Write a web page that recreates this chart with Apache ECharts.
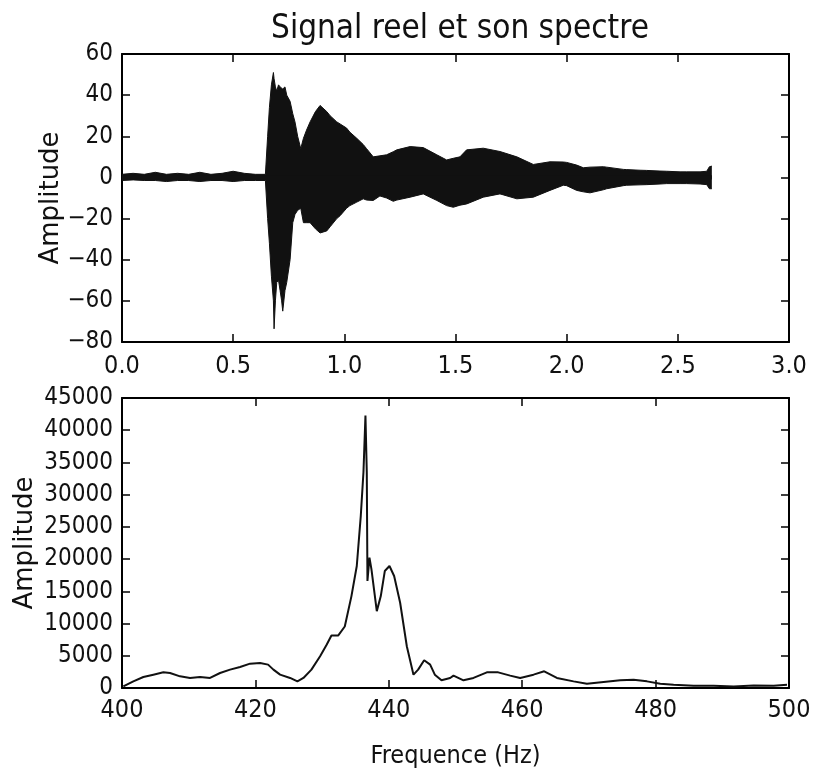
<!DOCTYPE html>
<html>
<head>
    <meta charset="utf-8">
    <title>Signal reel et son spectre</title>
    <script src="https://cdn.jsdelivr.net/npm/echarts@6/dist/echarts.min.js"></script>
    <style>
        html, body, #main {
            width: 100%;
            height: 100%;
            margin: 0;
            background: #fff;
        }
    </style>
</head>
<body>
    <div id="main"></div>
    <script type="text/javascript">
        // signal enveloppe : temps en s, bord haut, bord bas
        var sigTime = [0.00, 0.05, 0.10, 0.15, 0.20, 0.25, 0.30, 0.35, 0.40, 0.45, 0.50, 0.55, 0.60, 0.645,
            0.655, 0.663, 0.672, 0.681, 0.684, 0.690, 0.696, 0.704, 0.711, 0.718, 0.723, 0.733, 0.741,
            0.756, 0.768, 0.778, 0.790, 0.804, 0.816, 0.830, 0.846, 0.870, 0.891, 0.898, 0.921, 0.936,
            0.966, 0.981, 1.010, 1.025, 1.056, 1.085, 1.10, 1.13, 1.16, 1.19, 1.22, 1.236, 1.296, 1.355,
            1.416, 1.46, 1.49, 1.52, 1.55, 1.625, 1.70, 1.776, 1.85, 1.925, 1.985, 2.00, 2.045, 2.075,
            2.105, 2.165, 2.18, 2.255, 2.27, 2.33, 2.36, 2.42, 2.45, 2.51, 2.54, 2.60, 2.63, 2.642, 2.653];
        var sigUpper = [1.5, 2, 1.5, 2.5, 1.5, 2, 1.5, 2.5, 1.5, 2, 3, 2, 1.5, 1.5,
            20, 34, 45, 51, 48, 44, 42, 45, 44, 44.5, 43, 44, 40,
            37, 31, 27, 20, 14, 19, 23, 27, 32, 35, 35, 32, 30,
            27, 26, 24, 22, 19, 16, 14, 10, 10.5, 11, 12.5, 13.4, 15, 14.5,
            11, 8.5, 9.3, 10, 13.4, 14.2, 12.6, 10, 6.3, 7.6, 7.5, 7.3, 6, 4.7,
            5, 5.2, 5, 3.9, 3.8, 3.5, 3.4, 3.1, 3, 2.7, 2.7, 2.7, 3, 5.2, 5.5];
        var sigLower = [-1.5, -1.2, -1.5, -1.5, -2, -1.5, -1.5, -2, -1.5, -1.5, -2, -1.5, -1.5, -1.5,
            -20, -32, -48, -60, -73.6, -60, -51, -50, -55, -60, -65, -55, -51,
            -40, -22, -18, -16, -15, -22, -22, -22, -25, -27, -27.6, -26, -24,
            -20, -18.6, -15, -13.7, -12, -10.4, -11, -11.2, -9, -10, -11.6, -11, -9.6, -8,
            -11.2, -13.7, -14.5, -13.5, -12.9, -9.6, -8, -10.4, -9.6, -6.3, -3.8, -4, -6.3, -7,
            -7.5, -6, -5.5, -4, -3.8, -3.6, -3.5, -3.2, -3, -3, -3, -3.2, -3.5, -5.5, -5.5];

        // spectre : frequence (Hz) et amplitude
        var freq = [400.2, 401.7, 403.2, 404.7, 406.2, 407.2, 408.7, 410.2, 411.7, 413.2, 414.7, 416.2,
            417.7, 419.2, 420.7, 421.9, 422.7, 423.7, 425.2, 426.3, 427.2, 428.4, 429.7, 430.7, 431.4,
            432.4, 433.4, 434.4, 435.2, 435.8, 436.2, 436.5, 436.7, 436.8, 437.1, 437.4, 438.2, 438.8,
            439.4, 440.1, 440.8, 441.7, 442.7, 443.7, 444.4, 445.3, 446.2, 446.9, 447.9, 449.2, 449.7,
            451.2, 452.7, 454.7, 456.4, 458.2, 459.7, 461.7, 463.3, 465.2, 467.7, 469.7, 472.2, 474.7,
            476.7, 478.7, 480.7, 482.7, 485.7, 488.7, 491.7, 494.7, 497.7, 499.7];
        var ampl = [250, 1030, 1710, 2070, 2430, 2330, 1810, 1560, 1710, 1560, 2330, 2850,
            3270, 3780, 3890, 3630, 2850, 2070, 1560, 1030, 1560, 2850, 4920, 6740, 8140,
            8140, 9540, 14260, 18930, 26720, 33470, 42290, 33470, 16600, 20240, 18420, 11930, 14260,
            18150, 18930, 17380, 13230, 6480, 2070, 2850, 4300, 3630, 2070, 1190, 1560, 1920,
            1190, 1560, 2430, 2430, 1920, 1560, 2070, 2590, 1560, 1030, 670, 930, 1190,
            1290, 1030, 670, 510, 360, 360, 250, 400, 360, 510];

        var FONT = "'Liberation Sans Narrow', 'DejaVu Sans Condensed', sans-serif";
        var upperPts = sigTime.map(function (t, i) { return [t, sigUpper[i]]; });
        var lowerPts = sigTime.map(function (t, i) { return [t, sigLower[i]]; });
        var specPts = freq.map(function (f, i) { return [f, ampl[i]]; });

        function minus(v) { return String(v).replace('-', '\u2212'); }

        function axisBase(extra) {
            var a = {
                axisLine: { show: true, onZero: false, lineStyle: { color: '#000', width: 2 } },
                axisTick: { show: true, inside: true, length: 8, lineStyle: { color: '#000', width: 1.5 } },
                splitLine: { show: false },
                nameMoveOverlap: false,
                axisLabel: { color: '#111', fontSize: 24, fontFamily: FONT, margin: 9, formatter: minus }
            };
            for (var k in extra) a[k] = extra[k];
            return a;
        }
        function mirror(extra) {
            var a = axisBase(extra);
            a.axisLabel = { show: false };
            return a;
        }

        var myChart = echarts.init(document.getElementById('main'));
        var option = {
            animation: false,
            backgroundColor: '#fff',
            title: {
                text: 'Signal reel et son spectre',
                left: 455, top: 8, textAlign: 'center',
                textStyle: { fontSize: 33, fontWeight: 'normal', color: '#111', fontFamily: FONT }
            },
            grid: [
                { left: 122, top: 54, width: 667, height: 288 },
                { left: 122, top: 398, width: 667, height: 290 }
            ],
            xAxis: [
                axisBase({ gridIndex: 0, type: 'value', min: 0, max: 3, interval: 0.5,
                    axisLabel: { color: '#111', fontSize: 25, fontFamily: FONT, margin: 12,
                        formatter: function (v) { return v.toFixed(1); } } }),
                mirror({ gridIndex: 0, type: 'value', position: 'top', min: 0, max: 3, interval: 0.5 }),
                axisBase({ gridIndex: 1, type: 'value', min: 400, max: 500, interval: 20,
                    name: 'Frequence (Hz)', nameLocation: 'middle', nameGap: 56,
                    nameTextStyle: { fontSize: 25, color: '#111', fontFamily: FONT },
                    axisLabel: { color: '#111', fontSize: 25, fontFamily: FONT, margin: 10 } }),
                mirror({ gridIndex: 1, type: 'value', position: 'top', min: 400, max: 500, interval: 20 })
            ],
            yAxis: [
                axisBase({ gridIndex: 0, type: 'value', min: -80, max: 60, interval: 20,
                    name: 'Amplitude', nameLocation: 'middle', nameGap: 58,
                    nameTextStyle: { fontSize: 26, color: '#111', fontFamily: 'DejaVu Sans' } }),
                mirror({ gridIndex: 0, type: 'value', position: 'right', min: -80, max: 60, interval: 20 }),
                axisBase({ gridIndex: 1, type: 'value', min: 0, max: 45000, interval: 5000,
                    name: 'Amplitude', nameLocation: 'middle', nameGap: 84,
                    nameTextStyle: { fontSize: 26, color: '#111', fontFamily: 'DejaVu Sans' } }),
                mirror({ gridIndex: 1, type: 'value', position: 'right', min: 0, max: 45000, interval: 5000 })
            ],
            series: [
                {
                    // bord haut, rempli jusqu'un peu sous zero pour recouvrir la jointure
                    type: 'line', xAxisIndex: 0, yAxisIndex: 0, data: upperPts,
                    showSymbol: false, lineStyle: { color: '#111', width: 1 },
                    areaStyle: { color: '#111', opacity: 1, origin: -1 }
                },
                {
                    type: 'line', xAxisIndex: 0, yAxisIndex: 0, data: lowerPts,
                    showSymbol: false, lineStyle: { color: '#111', width: 1 },
                    areaStyle: { color: '#111', opacity: 1, origin: 1 }
                },
                {
                    type: 'line', xAxisIndex: 2, yAxisIndex: 2, data: specPts,
                    showSymbol: false, lineStyle: { color: '#111', width: 2 }
                }
            ]
        };
        myChart.setOption(option);
        window.onresize = myChart.resize;
    </script>
</body>
</html>
